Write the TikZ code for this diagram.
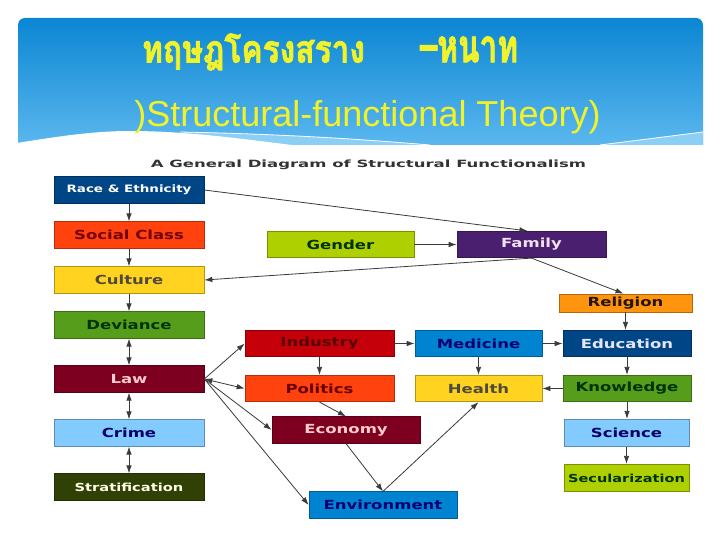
\documentclass[tikz,border=0pt]{standalone}
\usepackage{fontspec}
\setmainfont{DejaVu Sans}
\newfontfamily\boxfont[FakeStretch=1.32]{DejaVu Sans}
\newfontfamily\subfont[FakeStretch=1.65]{DejaVu Sans}
\newfontfamily\titlefont{Liberation Sans}
\newfontfamily\thaifont[Script=Thai,FakeBold=2]{Loma}
\usetikzlibrary{arrows.meta,calc}
\definecolor{cDBlue}{HTML}{004586}
\definecolor{cOrRed}{HTML}{FF420E}
\definecolor{cYellow}{HTML}{FFD320}
\definecolor{cGreen}{HTML}{579D1C}
\definecolor{cMaroon}{HTML}{7E0021}
\definecolor{cLBlue}{HTML}{83CAFF}
\definecolor{cOlive}{HTML}{314004}
\definecolor{cYGreen}{HTML}{AECF00}
\definecolor{cPurple}{HTML}{4B1F6F}
\definecolor{cOrange}{HTML}{FF950E}
\definecolor{cRed}{HTML}{C5000B}
\definecolor{cBlue}{HTML}{0084D1}
\definecolor{bannerTop}{HTML}{0B86D3}
\definecolor{bannerBot}{HTML}{5BB7EE}
\definecolor{bandCol}{HTML}{8CCFF4}
\definecolor{titleYellow}{HTML}{F0F22A}
\definecolor{arrowCol}{HTML}{3A3A3A}
\begin{document}
\begin{tikzpicture}[x=1pt,y=-1pt,
  box/.style args={#1/#2}{draw=#1!70!black, fill=#1, text=#2, line width=0.7pt,
    inner sep=0pt, minimum height=26.5pt,
    font=\boxfont\bfseries\fontsize{12.5}{14}\selectfont},
  arr/.style={draw=arrowCol, line width=0.8pt, -{Latex[length=8pt,width=5.5pt]}},
  darr/.style={draw=arrowCol, line width=0.8pt, {Latex[length=8pt,width=5.5pt]}-{Latex[length=8pt,width=5.5pt]}}]
\useasboundingbox (0,0) rectangle (720,540);
\fill[white] (0,0) rectangle (720,540);
% banner
\shade[top color=bannerTop, bottom color=bannerBot]
  (18,145) [rounded corners=7pt]-- (18,18) -- (703,18) [sharp corners]-- (703,145) -- cycle;
\fill[bandCol] (180,132) .. controls (280,134) and (360,139) .. (430,145) -- (250,145) -- cycle;
\fill[white] (17,146) -- (17,143) .. controls (60,136) and (95,131) .. (130,131)
  .. controls (190,131) and (250,140) .. (300,146) -- cycle;
\draw[white, line width=0.8pt] (180,132) .. controls (280,134) and (360,139) .. (430,145);
\fill[bandCol] (600,145) -- (703,132) -- (703,145) -- cycle;
\draw[white, line width=0.8pt] (600,145) -- (703,132);
% titles
\node[inner sep=0pt, text=titleYellow] (th1) at (253.5,52)
  {\resizebox*{223pt}{37pt}{\thaifont\bfseries ทฤษฎโครงสราง}};
\node[inner sep=0pt, text=titleYellow] (th2) at (469,49.5)
  {\resizebox*{98pt}{26pt}{\thaifont\bfseries –หนาท}};
\node[inner sep=0pt, anchor=base, text=titleYellow, font=\titlefont\fontsize{36}{40}\selectfont]
  (en) at (367.5,127) {)Structural-functional Theory)};
\node[inner sep=0pt, text=black!80, font=\subfont\bfseries\fontsize{10}{12}\selectfont]
  (sub) at (368.5,165) {A General Diagram of Structural Functionalism};
% left column
\node[box={cDBlue/white}, minimum width=150pt, font=\boxfont\bfseries\fontsize{10.2}{12}\selectfont] (race) at (129,190) {Race \& Ethnicity};
\node[box={cOrRed/red!45!black}, minimum width=150pt] (social) at (129,235) {Social Class};
\node[box={cYellow/black!80!yellow}, minimum width=150pt] (culture) at (129,280) {Culture};
\node[box={cGreen/green!20!black}, minimum width=150pt] (deviance) at (129,325) {Deviance};
\node[box={cMaroon/pink!80!white}, minimum width=150pt] (law) at (129,379) {Law};
\node[box={cLBlue/blue!40!black}, minimum width=150pt] (crime) at (129,433) {Crime};
\node[box={cOlive/white!90!yellow}, minimum width=150pt, font=\boxfont\bfseries\fontsize{11.1}{13}\selectfont] (strat) at (129,487) {Stratification};
% upper middle
\node[box={cYGreen/black!80!green}, minimum width=147pt] (gender) at (340.5,244.5) {Gender};
\node[box={cPurple/white!88!violet}, minimum width=149pt] (family) at (531.5,244.5) {Family};
\node[box={cOrange/black!85!orange}, minimum width=133pt, minimum height=18pt] (religion) at (625.5,303) {Religion};
% middle
\node[box={cRed/red!35!black}, minimum width=149pt] (industry) at (319.5,343.5) {Industry};
\node[box={cOrRed/red!40!black}, minimum width=149pt] (politics) at (319.5,388.5) {Politics};
\node[box={cMaroon/pink!80!white}, minimum width=148pt] (economy) at (346,430) {Economy};
\node[box={cBlue/blue!45!black}, minimum width=148pt] (environment) at (383,505) {Environment};
\node[box={cBlue/blue!45!black}, minimum width=127pt] (medicine) at (478.5,343.5) {Medicine};
\node[box={cYellow/black!80!yellow}, minimum width=127pt] (health) at (478.5,388.5) {Health};
% right column
\node[box={cDBlue/white!90!blue}, minimum width=128pt] (education) at (627,343.5) {Education};
\node[box={cGreen/green!20!black}, minimum width=128pt] (knowledge) at (627,388.5) {Knowledge};
\node[box={cLBlue/blue!40!black}, minimum width=125pt, minimum height=27.5pt] (science) at (626.5,433) {Science};
\node[box={cYGreen/black!80!green}, minimum width=125pt, minimum height=27.5pt, font=\boxfont\bfseries\fontsize{11}{13}\selectfont] (secular) at (626.5,478) {Secularization};
% connectors left column
\draw[arr] (race) -- (social);
\draw[arr] (social) -- (culture);
\draw[arr] (culture) -- (deviance);
\draw[darr] (deviance) -- (law);
\draw[darr] (law) -- (crime);
\draw[darr] (crime) -- (strat);
% upper connectors
\draw[arr] (race.east) -- ($(family.north)+(-4,0)$);
\draw[arr] (gender) -- (family);
\draw[arr] (family.south) -- (culture.east);
\draw[arr] (family.south) -- ($(religion.north)+(-2,0)$);
\draw[arr] (religion.south) -- (religion.south |- education.north);
% middle connectors
\draw[arr] (law.east) -- (industry.west);
\draw[darr] (law.east) -- (politics.west);
\draw[arr] (law.east) -- (economy.west);
\draw[arr] (law.east) -- (environment.west);
\draw[arr] (industry) -- (politics);
\draw[arr] (industry) -- (medicine);
\draw[arr] (medicine) -- (education);
\draw[arr] (medicine) -- (health);
\draw[arr] (knowledge) -- (health);
\draw[arr] (politics.south) -- (economy.north);
\draw[arr] (economy.south) -- (environment.north);
\draw[arr] (environment.north) -- (health.south);
% right column connectors
\draw[arr] (education) -- (education |- knowledge.north);
\draw[arr] (knowledge) -- (knowledge |- science.north);
\draw[arr] (science) -- (science |- secular.north);
\end{tikzpicture}
\end{document}
